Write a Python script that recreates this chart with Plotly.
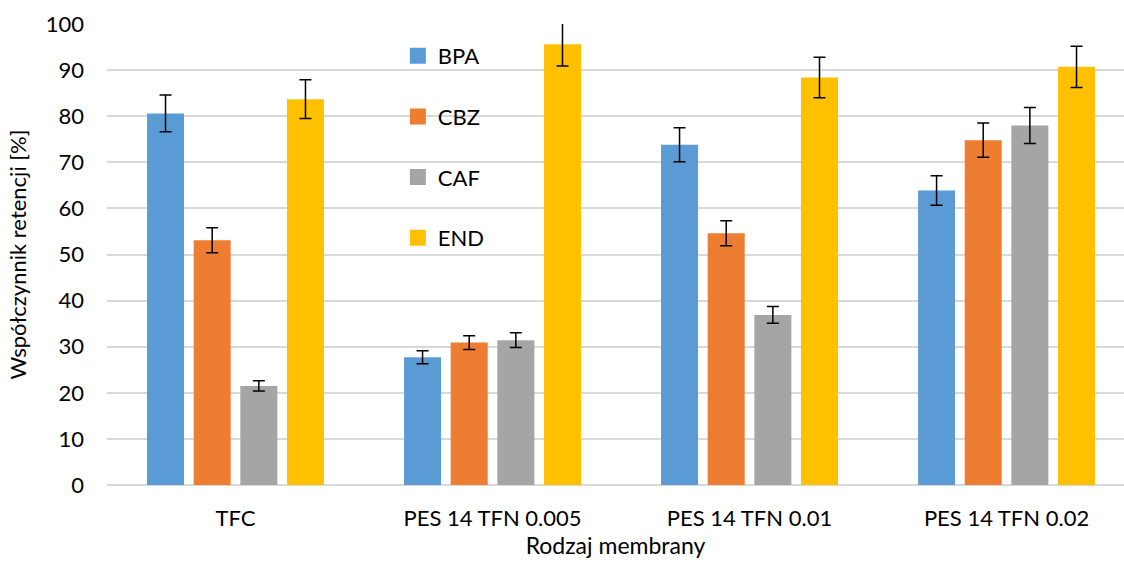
import plotly.graph_objects as go

# Membrane types (x categories) and compounds (series)
membranes = ["TFC", "PES 14 TFN 0.005", "PES 14 TFN 0.01", "PES 14 TFN 0.02"]
compounds = ["BPA", "CBZ", "CAF", "END"]

# Retention coefficient [%] per compound, one value per membrane
bpa = [80.6, 27.7, 73.8, 63.9]
cbz = [53.1, 30.9, 54.6, 74.8]
caf = [21.5, 31.4, 36.9, 78.0]
end = [83.7, 95.6, 88.4, 90.7]

# Standard deviations (error bars)
bpa_err = [4.0, 1.4, 3.7, 3.2]
cbz_err = [2.7, 1.5, 2.7, 3.7]
caf_err = [1.1, 1.6, 1.8, 3.9]
end_err = [4.2, 4.7, 4.4, 4.5]

colors = ["#5B9BD5", "#ED7D31", "#A5A5A5", "#FFC000"]
values = [bpa, cbz, caf, end]
errors = [bpa_err, cbz_err, caf_err, end_err]

FONT = "Lato"

fig = go.Figure()
for name, vals, errs, col in zip(compounds, values, errors, colors):
    fig.add_trace(go.Bar(
        x=membranes, y=vals, name=name, marker_color=col,
        marker_line_width=0, showlegend=False,
        error_y=dict(type="data", array=errs, visible=True,
                     color="black", thickness=1.5, width=6),
    ))

# Legend entries with larger square swatches
for i, (name, col) in enumerate(zip(compounds, colors)):
    fig.add_trace(go.Scatter(
        x=[None], y=[None], mode="markers", name=name,
        legendgroup=f"g{i}",
        marker=dict(symbol="square", size=16, color=col, line_width=0),
    ))

fig.update_layout(
    width=1124, height=562,
    margin=dict(l=107, r=0, t=24, b=77),
    paper_bgcolor="white", plot_bgcolor="white",
    barmode="group", bargap=0.274, bargroupgap=0.207,
    font=dict(family=FONT, size=22, color="black"),
    legend=dict(
        x=0.286, y=0.976, xanchor="left", yanchor="top",
        bgcolor="rgba(0,0,0,0)", tracegroupgap=29,
        font=dict(family=FONT, size=22, color="black"),
        itemsizing="trace",
    ),
    showlegend=True,
)

fig.update_xaxes(
    range=[-0.5, 3.457], showgrid=False, showline=False,
    ticks="", ticklabelstandoff=18,
    title=dict(text="Rodzaj membrany", standoff=7,
               font=dict(family=FONT, size=23)),
    tickfont=dict(family=FONT, size=22),
)
fig.update_yaxes(
    range=[0, 100], dtick=10, showgrid=True, gridcolor="#D9D9D9",
    gridwidth=1.5, zeroline=True, zerolinecolor="#D9D9D9",
    zerolinewidth=1.5, showline=False, ticks="",
    ticklabelstandoff=22,
    title=dict(text="Współczynnik retencji [%]", standoff=13,
               font=dict(family=FONT, size=22)),
    tickfont=dict(family=FONT, size=22),
)

fig.write_html("out.html")
